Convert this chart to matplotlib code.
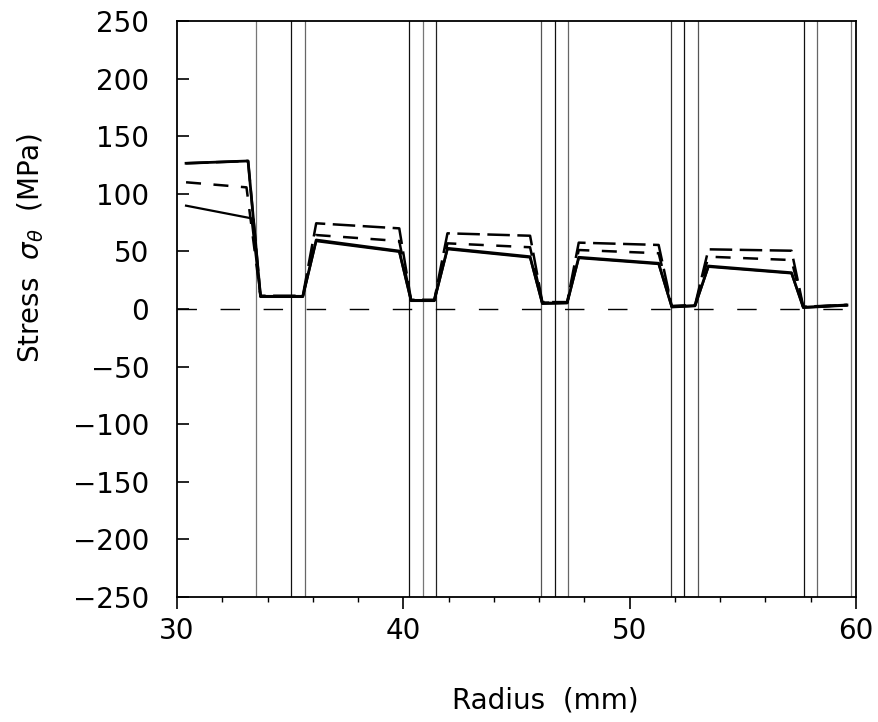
import matplotlib.pyplot as plt
from matplotlib.ticker import MultipleLocator

# radius (mm) / hoop stress (MPa)
r_solid_a = [30.4, 33.14, 33.69, 35.56, 36.15, 39.82, 40.34, 41.37, 41.95, 45.6,
             46.14, 47.24, 47.75, 51.28, 51.86, 52.89, 53.48, 57.15, 57.67, 59.6]
s_solid_a = [126.5, 128.5, 11.0, 11.0, 59.9, 50.3, 7.5, 7.5, 52.7, 45.4,
             5.0, 5.5, 44.9, 39.7, 2.0, 3.0, 37.3, 31.5, 1.5, 3.5]

r_solid_b = [30.4, 33.29, 33.69, 35.56, 36.15, 39.82, 40.34, 41.37, 41.95, 45.6,
             46.14, 47.24, 47.75, 51.28, 51.86, 52.89, 53.48, 57.15, 57.67, 59.6]
s_solid_b = [89.7, 78.7, 10.5, 10.5, 58.9, 49.6, 7.0, 7.0, 51.9, 44.7,
             4.5, 5.0, 44.2, 39.0, 1.5, 2.5, 36.6, 30.9, 1.0, 3.0]

r_dash_mid = [30.4, 33.07, 33.69, 35.56, 36.15, 39.82, 40.34, 41.37, 41.95, 45.6,
              46.14, 47.24, 47.75, 51.28, 51.86, 52.89, 53.48, 57.15, 57.67, 59.6]
s_dash_mid = [110.0, 105.6, 11.0, 11.0, 64.2, 59.0, 7.5, 7.5, 57.0, 53.6,
              5.5, 5.5, 51.2, 48.4, 2.5, 3.0, 45.4, 42.5, 1.5, 3.5]

r_dash_top = [30.4, 33.14, 33.69, 35.56, 36.15, 39.82, 40.34, 41.37, 41.95, 45.6,
              46.14, 47.24, 47.75, 51.28, 51.86, 52.89, 53.48, 57.15, 57.67, 59.6]
s_dash_top = [126.5, 128.5, 11.5, 11.5, 74.4, 70.0, 8.0, 8.0, 65.7, 63.6,
              6.0, 6.0, 57.6, 55.6, 2.5, 3.5, 51.8, 50.6, 2.0, 3.5]

# layer boundaries (mm)
boundaries = [33.51, 35.05, 35.64, 40.26, 40.85, 41.44, 46.07, 46.68, 47.27,
              51.82, 52.41, 53.01, 57.70, 58.28, 59.77]
boundary_colors = ["#777777", "#111111", "#666666", "#111111", "#777777", "#222222",
                   "#555555", "#111111", "#666666", "#333333", "#111111", "#555555",
                   "#111111", "#666666", "#777777"]

plt.rcParams["font.family"] = "DejaVu Sans"

fig = plt.figure(figsize=(8.79, 7.22), dpi=100)
ax = fig.add_axes([177 / 879, 1 - 597 / 722, 679 / 879, 576 / 722])

for x, c in zip(boundaries, boundary_colors):
    ax.axvline(x, color=c, lw=0.9, zorder=1)

ax.axhline(0, color="black", lw=1.0, linestyle=(0, (14, 17)), zorder=2)

ax.plot(r_dash_top, s_dash_top, color="black", lw=1.8, linestyle=(0, (9, 3)), zorder=3)
ax.plot(r_dash_mid, s_dash_mid, color="black", lw=1.8, linestyle=(0, (6, 5)), zorder=3)
ax.plot(r_solid_b, s_solid_b, color="black", lw=1.6, zorder=3)
ax.plot(r_solid_a, s_solid_a, color="black", lw=2.0, zorder=3)

ax.set_xlim(30, 60)
ax.set_ylim(-250, 250)
ax.xaxis.set_major_locator(MultipleLocator(10))
ax.xaxis.set_minor_locator(MultipleLocator(2))
ax.yaxis.set_major_locator(MultipleLocator(50))
ax.tick_params(axis="x", which="major", direction="out", length=8.5, width=1.2,
               pad=6, labelsize=20)
ax.tick_params(axis="x", which="minor", direction="out", length=3.5, width=1.0)
ax.tick_params(axis="y", which="major", direction="in", length=8.5, width=1.2,
               pad=20, labelsize=20)
for d in ["left", "bottom", "top", "right"]:
    ax.spines[d].set_linewidth(1.3)

fig.text(545 / 879, 1 - 700 / 722, "Radius  (mm)", fontsize=20,
         ha="center", va="center")
fig.text(31 / 879, 1 - 248 / 722, r"Stress  $\sigma_\theta$  (MPa)", fontsize=20,
         ha="center", va="center", rotation=90)

fig.savefig("out.png", dpi=100)
